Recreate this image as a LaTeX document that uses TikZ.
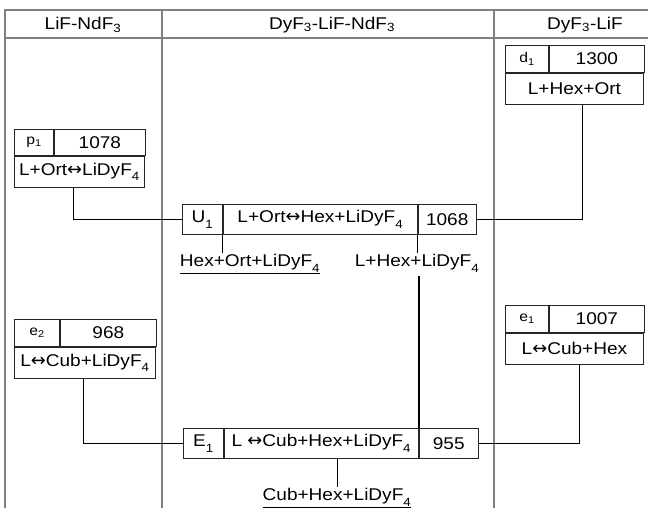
\documentclass[tikz,border=0pt]{standalone}
\usepackage{fontspec}
\setmainfont[FakeStretch=1.12]{Liberation Sans}
\newfontfamily\symfont[Scale=1.05]{DejaVu Sans}
\usetikzlibrary{positioning}
\newcommand{\arr}{{\symfont ↔}}
\newcommand{\lo}[1]{\raisebox{-0.35ex}{\textsubscript{#1}}}
\tikzset{cell/.style={draw=black!85,line width=0.9pt,inner sep=0pt,minimum height=26,anchor=north west,font=\fontsize{17}{19}\selectfont},tag/.style={cell,font=\fontsize{14}{16}\selectfont},frame/.style={draw=black!50,line width=1.4pt},link/.style={draw=black,line width=0.9pt},tie/.style={draw=black,line width=2.2pt},product/.style={inner sep=1pt,font=\fontsize{17}{19}\selectfont}}

\begin{document}
\begin{tikzpicture}[x=1pt,y=-1pt]
\useasboundingbox (0,0) rectangle (648,508);
% frame of the table
\draw[frame] (5,508) -- (5,10) -- (648,10);
\draw[frame] (5,38) -- (648,38);
\draw[frame] (162,10) -- (162,508);
\draw[frame] (494,10) -- (494,508);
\node[product] (hdA) at (83,25) {LiF-NdF\textsubscript{3}};
\node[product] (hdB) at (332,25) {DyF\textsubscript{3}-LiF-NdF\textsubscript{3}};
\node[product] (hdC) at (585,25) {DyF\textsubscript{3}-LiF};

% binary points
\node[tag,minimum width=39] (p1) at (14,129) {p\textsubscript{1}};
\node[cell,minimum width=91,right=0pt of p1] (p1T) {1078};
\node[cell,minimum width=130,minimum height=31,below=0pt of p1.south west,anchor=north west] (p1R) {L+Ort\arr LiDyF\lo{4}};

\node[tag,minimum width=43,minimum height=27] (d1) at (505,45) {d\textsubscript{1}};
\node[cell,minimum width=95,minimum height=27,right=0pt of d1] (d1T) {1300};
\node[cell,minimum width=138,minimum height=31,below=0pt of d1.south west,anchor=north west] (d1R) {L+Hex+Ort};

\node[tag,minimum width=45,minimum height=27] (e2) at (14,319) {e\textsubscript{2}};
\node[cell,minimum width=96,minimum height=27,right=0pt of e2] (e2T) {968};
\node[cell,minimum width=141,minimum height=31,below=0pt of e2.south west,anchor=north west] (e2R) {L\arr Cub+LiDyF\lo{4}};

\node[tag,minimum width=43,minimum height=27] (e1) at (505,305) {e\textsubscript{1}};
\node[cell,minimum width=95,minimum height=27,right=0pt of e1] (e1T) {1007};
\node[cell,minimum width=138,minimum height=31,below=0pt of e1.south west,anchor=north west] (e1R) {L\arr Cub+Hex};

% ternary points
\node[cell,minimum width=40,minimum height=30] (U1) at (182,204) {U\lo{1}};
\node[cell,minimum width=194,minimum height=30,right=0pt of U1] (U1R) {L+Ort\arr Hex+LiDyF\lo{4}};
\node[cell,minimum width=58,minimum height=30,right=0pt of U1R] (U1T) {1068};

\node[cell,minimum width=40,minimum height=30] (E1) at (183,428) {E\lo{1}};
\node[cell,minimum width=194,minimum height=30,right=0pt of E1] (E1R) {L \arr Cub+Hex+LiDyF\lo{4}};
\node[cell,minimum width=59,minimum height=30,right=0pt of E1R] (E1T) {955};

% three-phase fields
\node[product,anchor=north] (hexort) at (250,253) {\underline{Hex+Ort+LiDyF\lo{4}}};
\node[product,anchor=north] (lhex) at (417,253) {L+Hex+LiDyF\lo{4}};
\node[product,anchor=north] (cubhex) at (337,487) {\underline{Cub+Hex+LiDyF\lo{4}}};

\draw[link] ([xshift=-6pt]p1R.south) |- (U1.west);
\draw[link] ([xshift=8pt]d1R.south) |- (U1T.east);
\draw[link] ([xshift=-1.5pt]e2R.south) |- (E1.west);
\draw[link] ([xshift=5pt]e1R.south) |- (E1T.east);
\draw[link] (U1.south east) -- (U1.south east |- hexort.north);
\draw[link] (U1R.south east) -- (U1R.south east |- lhex.north);
\draw[tie,shorten <=3pt] (E1R.north east |- lhex.south) -- (E1R.north east);
\draw[link] (cubhex.north) -- (cubhex.north |- E1R.south);
\end{tikzpicture}
\end{document}
